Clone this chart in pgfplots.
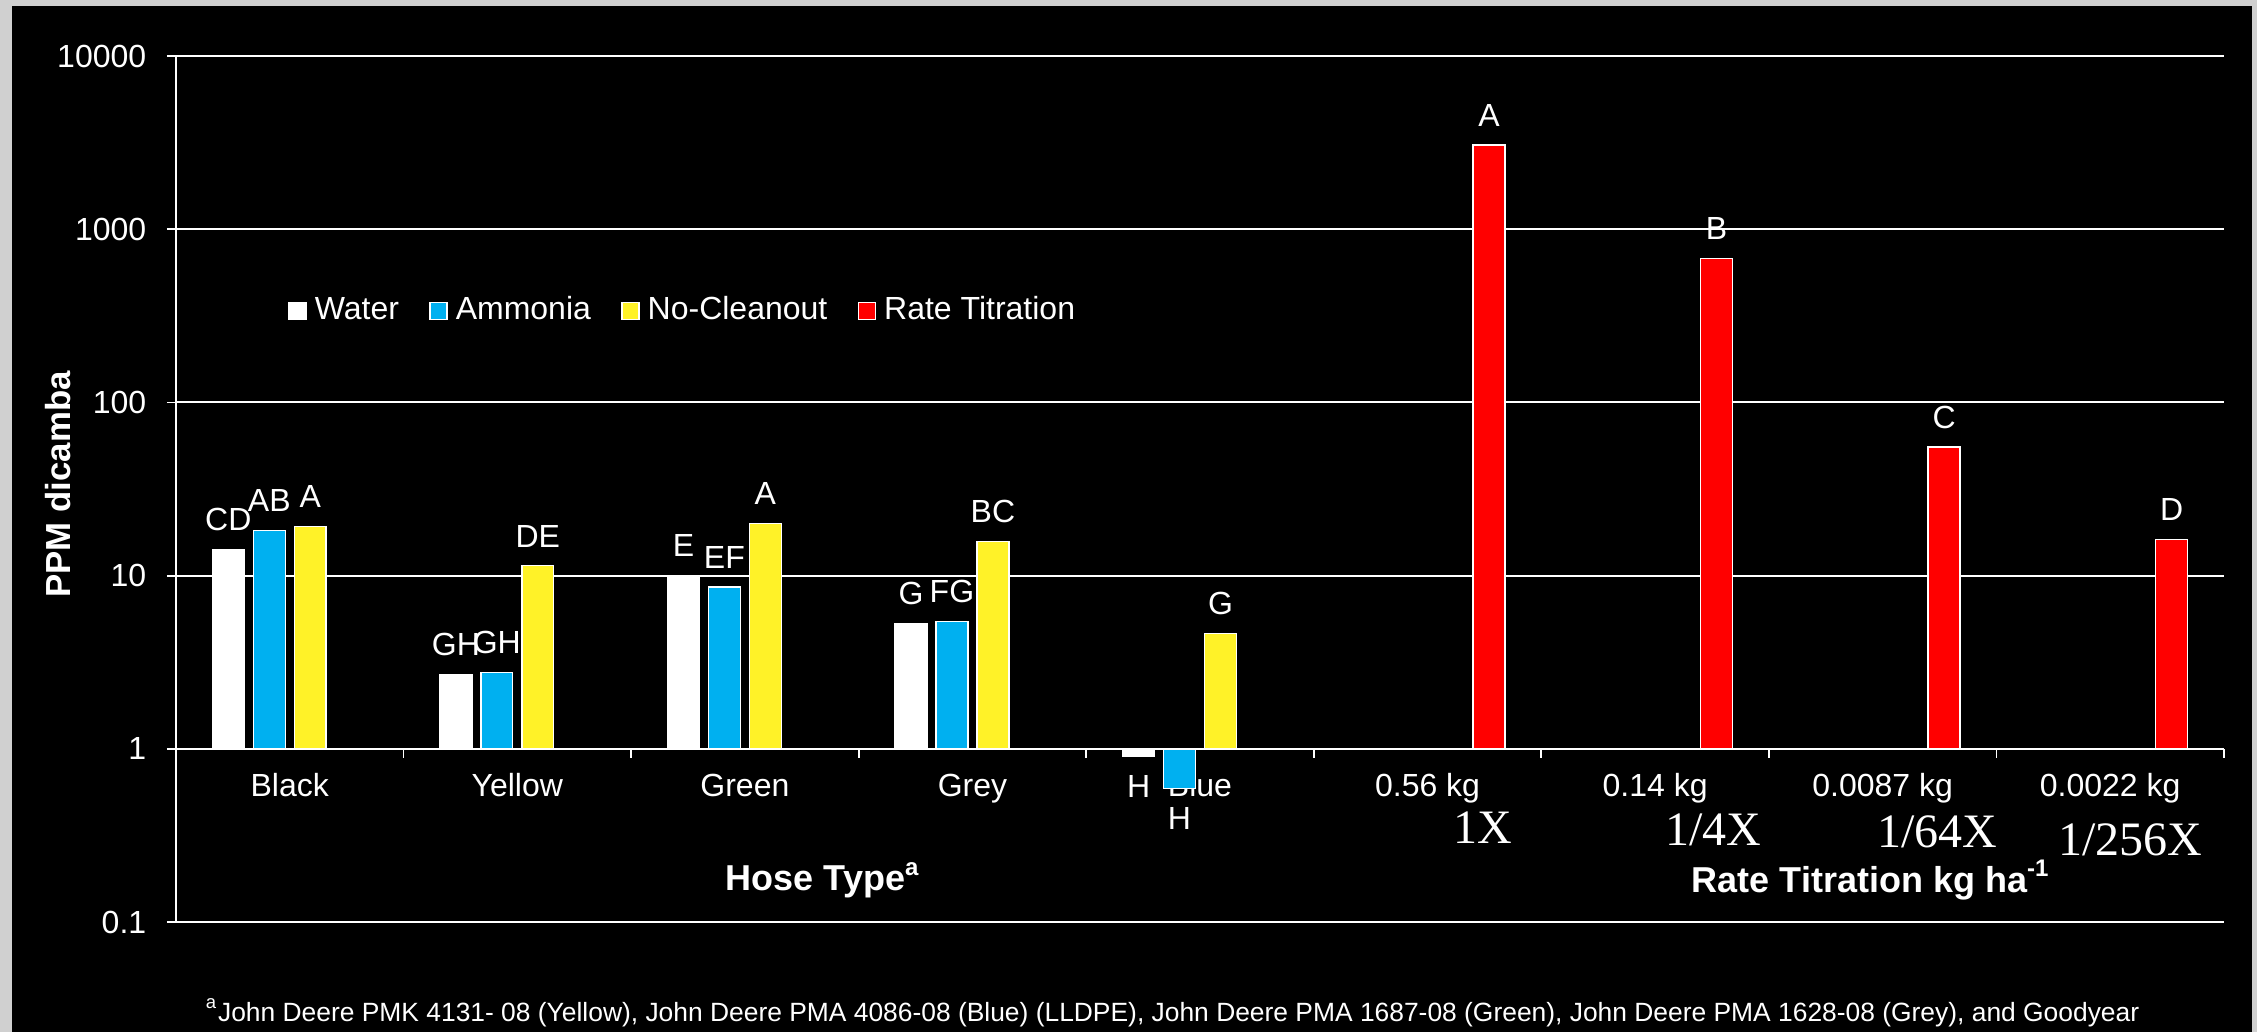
\documentclass[border=0pt]{standalone}
\usepackage{fontspec}
\setmainfont{Liberation Sans}
\newfontfamily\timesfont{Liberation Serif}
\usepackage{pgfplots}
\usepackage{pgfplotstable}
\pgfplotsset{compat=1.18}

\definecolor{framegrey}{RGB}{208,208,208}
\definecolor{ammonia}{RGB}{0,176,240}
\definecolor{nocln}{RGB}{255,242,40}
\definecolor{rate}{RGB}{255,0,0}

\pgfplotsset{sqleg/.style={legend image code/.code={%
  \draw[##1,draw=white,line width=0.4pt] (0pt,-2.1pt) rectangle (4.2pt,2.1pt);}}}

% hose types: 0 Black, 1 Yellow, 2 Green, 3 Grey, 4 Blue
\pgfplotstableread{
x y lab
0 14.1 CD
1 2.68 GH
2 10.0 E
3 5.28 G
4 0.90 H
}\water
\pgfplotstableread{
x y lab
0 18.2 AB
1 2.75 GH
2 8.6 EF
3 5.42 FG
4 0.59 H
}\ammonia
\pgfplotstableread{
x y lab
0 19.2 A
1 11.4 DE
2 20.0 A
3 15.7 BC
4 4.64 G
}\nocleanout
% rate titration: 5 0.56 kg, 6 0.14 kg, 7 0.0087 kg, 8 0.0022 kg
\pgfplotstableread{
x y lab
5 3060 A
6 680 B
7 55.2 C
8 16.2 D
}\ratetit

\begin{document}
\begin{tikzpicture}
\fill[framegrey] (0pt,0pt) rectangle (564.25pt,258pt);
\fill[black] (3pt,0pt) rectangle (563pt,256.5pt);
\path[use as bounding box] (0pt,0pt) rectangle (564.25pt,258pt);
\begin{axis}[
    at={(44pt,27.5pt)}, anchor=south west,
    scale only axis, width=512pt, height=216.5pt,
    ymode=log, ymin=0.1, ymax=10000,
    xmin=-0.5, xmax=8.5,
    axis y line=left, axis x line=middle,
    axis line style={-, white, line width=0.45pt},
    ymajorgrids, major grid style={white, line width=0.5pt},
    ytick={0.1,1,10,100,1000,10000},
    yticklabels={0.1,1,10,100,1000,10000},
    yminorticks=false,
    xtick={-0.5,0.5,...,8.5}, xticklabels={},
    extra x ticks={0,1,2,3,4,5,6,7,8},
    extra x tick labels={Black,Yellow,Green,Grey,Blue,0.56 kg,0.14 kg,0.0087 kg,0.0022 kg},
    extra x tick style={major tick length=0pt},
    tick align=outside, major tick length=2.25pt,
    tick style={white, line width=0.45pt},
    ticklabel style={font=\fontsize{8}{9}\selectfont, text=white, inner sep=0pt},
    yticklabel style={anchor=east, xshift=-5pt},
    xticklabel style={anchor=base, yshift=-12pt},
    ybar, bar width=0.14,
    nodes near coords, point meta=explicit symbolic,
    every node near coord/.append style={font=\fontsize{8}{9}\selectfont, text=white, inner xsep=0pt, inner ysep=4.5pt},
    legend columns=4,
    legend style={at={(axis description cs:0.0545,0.7055)}, anchor=west,
        draw=none, fill=none, inner sep=0pt, text=white,
        font=\fontsize{8}{9}\selectfont,
        /tikz/every odd column/.append style={column sep=0pt},
        /tikz/every even column/.append style={column sep=5.6pt}},
]
\addplot[fill=white, draw=white, line width=0.35pt, bar shift=-0.27, sqleg,
    coordinate style/.condition={\coordindex==4}{anchor=north}]
    table[x=x, y=y, meta=lab] {\water};
\addplot[fill=ammonia, draw=white, line width=0.35pt, bar shift=-0.09, sqleg,
    coordinate style/.condition={\coordindex==4}{anchor=north}]
    table[x=x, y=y, meta=lab] {\ammonia};
\addplot[fill=nocln, draw=white, line width=0.35pt, bar shift=0.09, sqleg]
    table[x=x, y=y, meta=lab] {\nocleanout};
\addplot[fill=rate, draw=white, line width=0.35pt, bar shift=0.27, sqleg]
    table[x=x, y=y, meta=lab] {\ratetit};
\legend{Water, Ammonia, No-Cleanout, Rate Titration}
\end{axis}

\node[rotate=90, text=white, font=\bfseries\fontsize{8.7}{10}\selectfont] at (14.5pt,136.9pt) {PPM dicamba};
\node[text=white, font=\bfseries\fontsize{9}{10}\selectfont] at (205.75pt,38pt) {Hose Type\textsuperscript{a}};
\node[text=white, font=\bfseries\fontsize{9}{10}\selectfont] at (467.75pt,38pt) {Rate Titration kg ha\textsuperscript{-1}};
\node[text=white, font=\timesfont\fontsize{12}{14}\selectfont] at (370.75pt,51pt) {1X};
\node[text=white, font=\timesfont\fontsize{12}{14}\selectfont] at (428.25pt,50.5pt) {1/4X};
\node[text=white, font=\timesfont\fontsize{12}{14}\selectfont] at (484.25pt,50pt) {1/64X};
\node[text=white, font=\timesfont\fontsize{12}{14}\selectfont] at (532.5pt,48pt) {1/256X};
\node[anchor=base west, inner sep=0pt, text=white, font=\fontsize{6.6}{7.5}\selectfont] at (51.25pt,2.75pt)
    {\textsuperscript{a}John Deere PMK 4131- 08 (Yellow), John Deere PMA 4086-08 (Blue) (LLDPE), John Deere PMA 1687-08 (Green), John Deere PMA 1628-08 (Grey), and Goodyear};
\end{tikzpicture}
\end{document}
